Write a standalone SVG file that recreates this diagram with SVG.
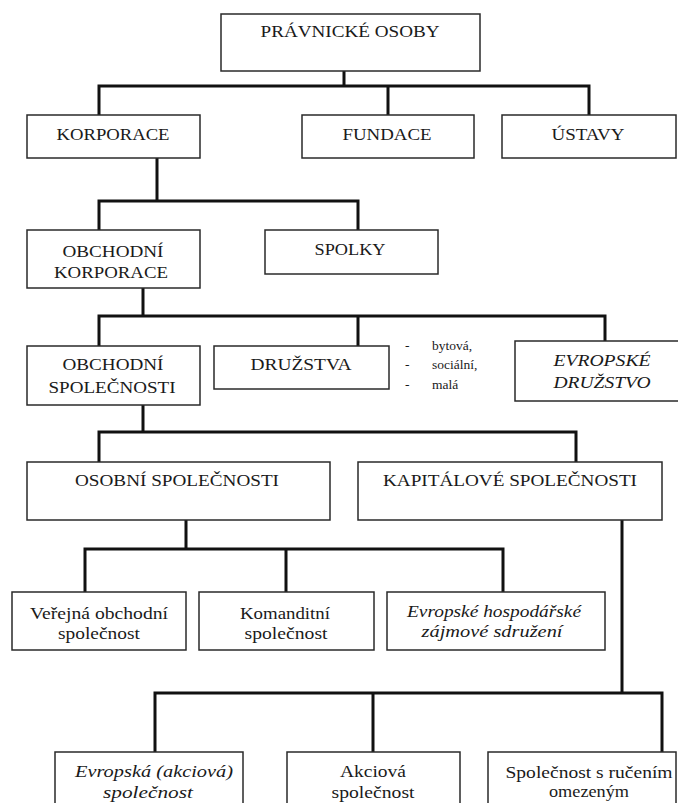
<svg xmlns="http://www.w3.org/2000/svg" width="678" height="803" viewBox="0 0 678 803">
<style>
.b{fill:#fff;stroke:#2a2a2a;stroke-width:1.5}
.c{fill:none;stroke:#111;stroke-width:3;stroke-linejoin:miter}
</style>
<rect width="678" height="803" fill="#fff"/>
<g id="connectors">
<path class="c" d="M344 71V86M99 115V86H589V115M388 86V115"/>
<path class="c" d="M157 158V201M99 230V201H358V230"/>
<path class="c" d="M143 288V316M99 346V316H605V341M358 316V346"/>
<path class="c" d="M143 405V432M99 462V432H576V462"/>
<path class="c" d="M186 520V549M85 592V549H503V592M286 549V592"/>
<path class="c" d="M622 520V693M155 752V693H662V752M373 693V752"/>
</g>
<g id="nodes" font-family="Liberation Serif" font-size="17.5" text-anchor="middle" fill="#1a1a1a">
<g id="pravnicke-osoby"><rect class="b" x="221" y="14" width="259" height="57"/><text x="350" y="37" textLength="179" lengthAdjust="spacingAndGlyphs">PRÁVNICKÉ OSOBY</text></g>
<g id="korporace"><rect class="b" x="27" y="115" width="173" height="43"/><text x="113" y="140" textLength="113" lengthAdjust="spacingAndGlyphs">KORPORACE</text></g>
<g id="fundace"><rect class="b" x="302" y="115" width="172" height="43"/><text x="387" y="140" textLength="89" lengthAdjust="spacingAndGlyphs">FUNDACE</text></g>
<g id="ustavy"><rect class="b" x="502" y="115" width="174" height="43"/><text x="588" y="140" textLength="73" lengthAdjust="spacingAndGlyphs">ÚSTAVY</text></g>
<g id="obchodni-korporace"><rect class="b" x="27" y="230" width="173" height="58"/><text x="113" y="257" textLength="101" lengthAdjust="spacingAndGlyphs">OBCHODNÍ</text><text x="111" y="278" textLength="114" lengthAdjust="spacingAndGlyphs">KORPORACE</text></g>
<g id="spolky"><rect class="b" x="265" y="230" width="173" height="44"/><text x="350" y="255" textLength="71" lengthAdjust="spacingAndGlyphs">SPOLKY</text></g>
<g id="obchodni-spolecnosti"><rect class="b" x="27" y="346" width="173" height="59"/><text x="113" y="370" textLength="101" lengthAdjust="spacingAndGlyphs">OBCHODNÍ</text><text x="112" y="393" textLength="127" lengthAdjust="spacingAndGlyphs">SPOLEČNOSTI</text></g>
<g id="druzstva"><rect class="b" x="214" y="346" width="175" height="43"/><text x="301" y="370" textLength="101" lengthAdjust="spacingAndGlyphs">DRUŽSTVA</text></g>
<g id="druzstva-typy" font-size="13.5" text-anchor="start"><text x="405" y="350">-</text><text x="432" y="350">bytová,</text><text x="405" y="369">-</text><text x="432" y="369">sociální,</text><text x="405" y="389">-</text><text x="432" y="389">malá</text></g>
<g id="evropske-druzstvo"><rect class="b" x="515" y="341" width="180" height="60"/><text font-style="italic" x="602" y="366" textLength="97" lengthAdjust="spacingAndGlyphs">EVROPSKÉ</text><text font-style="italic" x="602" y="388" textLength="97" lengthAdjust="spacingAndGlyphs">DRUŽSTVO</text></g>
<g id="osobni-spolecnosti"><rect class="b" x="27" y="462" width="303" height="58"/><text x="177" y="486" textLength="204" lengthAdjust="spacingAndGlyphs">OSOBNÍ SPOLEČNOSTI</text></g>
<g id="kapitalove-spolecnosti"><rect class="b" x="358" y="462" width="304" height="58"/><text x="510" y="486" textLength="254" lengthAdjust="spacingAndGlyphs">KAPITÁLOVÉ SPOLEČNOSTI</text></g>
<g id="verejna-obchodni-spolecnost"><rect class="b" x="12" y="592" width="174" height="58"/><text x="99" y="619" textLength="138" lengthAdjust="spacingAndGlyphs">Veřejná obchodní</text><text x="99" y="639" textLength="82" lengthAdjust="spacingAndGlyphs">společnost</text></g>
<g id="komanditni-spolecnost"><rect class="b" x="199" y="592" width="175" height="58"/><text x="285" y="619" textLength="90" lengthAdjust="spacingAndGlyphs">Komanditní</text><text x="286" y="639" textLength="83" lengthAdjust="spacingAndGlyphs">společnost</text></g>
<g id="ehzs"><rect class="b" x="387" y="592" width="218" height="58"/><text font-style="italic" x="494" y="617" textLength="174" lengthAdjust="spacingAndGlyphs">Evropské hospodářské</text><text font-style="italic" x="492" y="637" textLength="141" lengthAdjust="spacingAndGlyphs">zájmové sdružení</text></g>
<g id="evropska-spolecnost"><rect class="b" x="55" y="752" width="188" height="60"/><text font-style="italic" x="154" y="777" textLength="158" lengthAdjust="spacingAndGlyphs">Evropská (akciová)</text><text font-style="italic" x="148" y="798" textLength="90" lengthAdjust="spacingAndGlyphs">společnost</text></g>
<g id="akciova-spolecnost"><rect class="b" x="287" y="752" width="173" height="60"/><text x="373" y="777" textLength="66" lengthAdjust="spacingAndGlyphs">Akciová</text><text x="373" y="798" textLength="83" lengthAdjust="spacingAndGlyphs">společnost</text></g>
<g id="sro"><rect class="b" x="488" y="752" width="188" height="60"/><text x="589" y="778" textLength="167" lengthAdjust="spacingAndGlyphs">Společnost s ručením</text><text x="589" y="797" textLength="80" lengthAdjust="spacingAndGlyphs">omezeným</text></g>
</g>
</svg>
